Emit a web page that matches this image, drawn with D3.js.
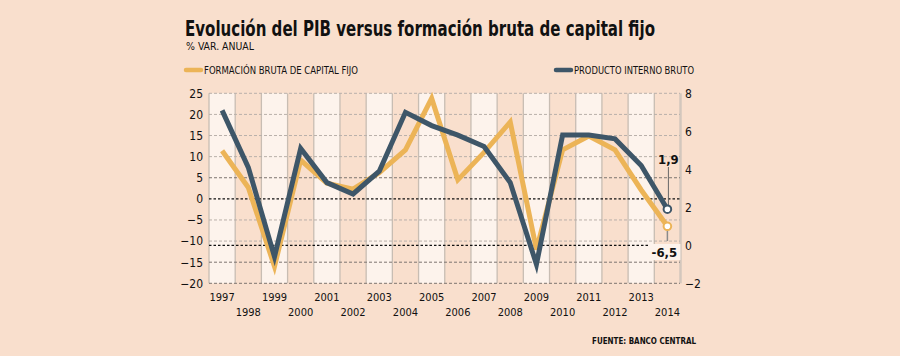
<!DOCTYPE html>
<html><head><meta charset="utf-8">
<script src="https://cdn.jsdelivr.net/npm/d3@7"></script>
<style>
html,body{margin:0;padding:0;background:#f9dfcd;}
svg{display:block;}
text{font-family:"DejaVu Sans Condensed","DejaVu Sans",sans-serif;fill:#111;}
</style></head>
<body>
<svg id="c" width="900" height="356"></svg>
<script>
const years = [1997,1998,1999,2000,2001,2002,2003,2004,2005,2006,2007,2008,2009,2010,2011,2012,2013,2014];
const fbcf = [11.4,2.7,-16,9.2,3.7,2.3,6.2,11.6,23.8,4.5,11.0,18.2,-12,11.6,14.9,11.6,2.1,-6.5];
const pib  = [7.1,4.1,-0.6,5.1,3.3,2.7,3.9,7.0,6.3,5.8,5.2,3.3,-1.0,5.8,5.8,5.6,4.2,1.9];
const leftTicks = [-20,-15,-10,-5,0,5,10,15,20,25];
const rightTicks = [-2,0,2,4,6,8];
const title = "Evolución del PIB versus formación bruta de capital fijo";
const subtitle = "% VAR. ANUAL";
const legendFbcf = "FORMACIÓN BRUTA DE CAPITAL FIJO";
const legendPib = "PRODUCTO INTERNO BRUTO";
const source = "FUENTE: BANCO  CENTRAL";
const labelPib = "1,9";
const labelFbcf = "-6,5";

(function(){
const svg = d3.select("#c");
const W=900,H=356;
svg.append("rect").attr("width",W).attr("height",H).attr("fill","#f9dfcd");

const x = d3.scaleBand().domain(years).range([209,680.5]).padding(0);
const yL = d3.scaleLinear().domain([-20,25]).range([283.3,93.3]);
const yR = d3.scaleLinear().domain([-2,8]).range([283.3,93.3]);
const yTop = yL(25), yBot = yL(-20);

// light bands
svg.append("g").selectAll("rect").data(years.filter((d,i)=>i%2===0)).join("rect")
  .attr("x",d=>x(d)).attr("width",x.bandwidth()).attr("y",yTop).attr("height",yBot-yTop)
  .attr("fill","#fdf3ec");

// vertical separators
svg.append("g").selectAll("line").data(years).join("line")
  .attr("x1",d=>x(d)).attr("x2",d=>x(d)).attr("y1",yTop).attr("y2",yBot)
  .attr("stroke","#c8bdb3").attr("stroke-width",1.3);
svg.append("line").attr("x1",x.range()[1]).attr("x2",x.range()[1]).attr("y1",yTop).attr("y2",yBot)
  .attr("stroke","#d3c7bd").attr("stroke-width",2.5);

// horizontal gridlines at left ticks
const darker = new Set([5,-15,-20]);
svg.append("g").selectAll("line").data(leftTicks.filter(d=>d!==0)).join("line")
  .attr("x1",209).attr("x2",680).attr("y1",d=>yL(d)).attr("y2",d=>yL(d))
  .attr("stroke",d=>darker.has(d)?"#7d7570":"#b9b0aa").attr("stroke-width",1)
  .attr("stroke-dasharray","3,2");
// zero lines
[yL(0), yR(0)].forEach(v=>{
  svg.append("line").attr("x1",209).attr("x2",680).attr("y1",v).attr("y2",v)
    .attr("stroke","#111").attr("stroke-width",1.2).attr("stroke-dasharray","2.5,2");
});

// axes
const axL = svg.append("g").attr("transform","translate(209,0)")
  .call(d3.axisLeft(yL).tickValues(leftTicks).tickSize(0).tickPadding(6).tickFormat(d3.format("d")));
axL.select(".domain").remove();
axL.selectAll("text").attr("font-size",12).attr("font-family","DejaVu Sans Condensed").attr("fill","#111");
const axR = svg.append("g").attr("transform","translate(680,0)")
  .call(d3.axisRight(yR).tickValues(rightTicks).tickSize(0).tickPadding(5).tickFormat(d3.format("d")));
axR.select(".domain").remove();
axR.selectAll("text").attr("font-size",12).attr("font-family","DejaVu Sans Condensed").attr("fill","#111");

// x labels
svg.append("g").selectAll("text").data(years).join("text")
  .attr("x",d=>x(d)+x.bandwidth()/2)
  .attr("y",(d,i)=>i%2===0?301:315.5)
  .attr("text-anchor","middle").attr("font-size",11).text(d=>d);

// lines
const lineL = d3.line().x((d,i)=>x(years[i])+x.bandwidth()/2).y(d=>yL(d));
const lineR = d3.line().x((d,i)=>x(years[i])+x.bandwidth()/2).y(d=>yR(d));
const cOr="#ecb457", cBl="#3e5668";
svg.append("path").datum(fbcf).attr("d",lineL).attr("fill","none").attr("stroke",cOr)
  .attr("stroke-width",5).attr("stroke-linejoin","miter");
svg.append("path").datum(pib).attr("d",lineR).attr("fill","none").attr("stroke",cBl)
  .attr("stroke-width",5).attr("stroke-linejoin","miter");

// end annotations
const last = years.length-1;
const ex = x(years[last])+x.bandwidth()/2;
const pY = yR(pib[last]), fY = yL(fbcf[last]);
svg.append("line").attr("x1",ex+1).attr("x2",ex+1).attr("y1",167).attr("y2",pY)
  .attr("stroke","#666").attr("stroke-width",1);
svg.append("line").attr("x1",ex).attr("x2",ex).attr("y1",fY).attr("y2",241)
  .attr("stroke","#8a8a8a").attr("stroke-width",1.5);
svg.append("circle").attr("cx",ex).attr("cy",pY).attr("r",3.8).attr("fill","#fff")
  .attr("stroke",cBl).attr("stroke-width",2);
svg.append("circle").attr("cx",ex).attr("cy",fY).attr("r",3.8).attr("fill","#fff")
  .attr("stroke",cOr).attr("stroke-width",2);
svg.append("text").attr("x",ex+1).attr("y",164).attr("text-anchor","middle")
  .attr("font-size",13).attr("font-weight","bold").attr("font-family","DejaVu Sans").text(labelPib);
svg.append("rect").attr("x",ex-18).attr("y",244).attr("width",31).attr("height",16).attr("fill","#fdf3ec");
svg.append("text").attr("x",ex-3).attr("y",257).attr("text-anchor","middle")
  .attr("font-size",13).attr("font-weight","bold").attr("font-family","DejaVu Sans").text(labelFbcf);

// title
svg.append("text").attr("x",185).attr("y",36).attr("font-size",21).attr("font-weight","bold")
  .attr("textLength",470).attr("lengthAdjust","spacingAndGlyphs").text(title);
svg.append("text").attr("x",186).attr("y",50).attr("font-size",10)
  .attr("textLength",68).attr("lengthAdjust","spacingAndGlyphs").text(subtitle);

// legend
svg.append("line").attr("x1",186).attr("x2",201).attr("y1",70).attr("y2",70)
  .attr("stroke",cOr).attr("stroke-width",4.5).attr("stroke-linecap","round");
svg.append("text").attr("x",204).attr("y",73.5).attr("font-size",10.5)
  .attr("textLength",154).attr("lengthAdjust","spacingAndGlyphs").text(legendFbcf);
svg.append("line").attr("x1",556).attr("x2",571).attr("y1",70).attr("y2",70)
  .attr("stroke",cBl).attr("stroke-width",4.5).attr("stroke-linecap","round");
svg.append("text").attr("x",574).attr("y",73.5).attr("font-size",10.5)
  .attr("textLength",120).attr("lengthAdjust","spacingAndGlyphs").text(legendPib);

// source
svg.append("text").attr("x",592).attr("y",343.5).attr("font-size",9.5).attr("font-weight","bold")
  .attr("textLength",104).attr("lengthAdjust","spacingAndGlyphs").text(source);
})();
</script>
</body></html>
